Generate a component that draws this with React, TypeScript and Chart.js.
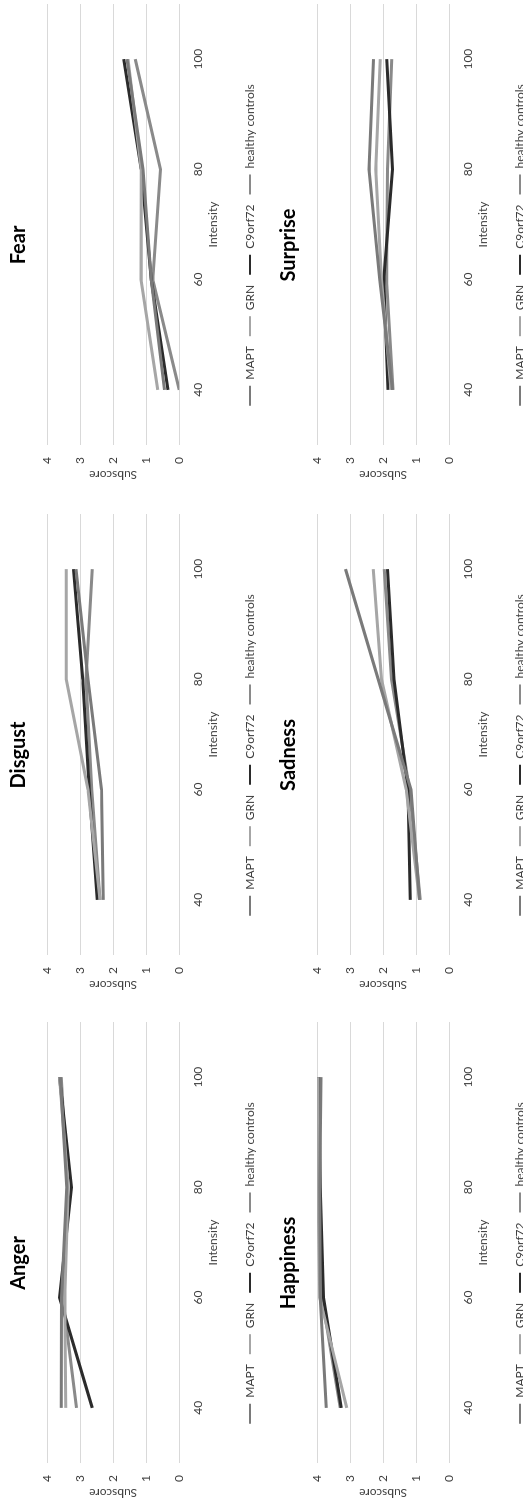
import React, { useEffect, useRef } from 'react';
import { Chart, registerables } from 'chart.js';

Chart.register(...registerables);

// ---------- data ----------
const INTENSITY = ['40', '60', '80', '100'];
const SERIES_NAMES = ['MAPT', 'GRN', 'C9orf72', 'healthy controls'];
const Y_MIN = 0;
const Y_MAX = 4;
const Y_STEP = 1;

const ANGER_MAPT = [3.57, 3.56, 3.4, 3.6];
const ANGER_GRN = [3.43, 3.46, 3.36, 3.62];
const ANGER_C9 = [2.63, 3.62, 3.26, 3.62];
const ANGER_HC = [3.11, 3.52, 3.38, 3.57];

const DISGUST_MAPT = [2.3, 2.35, 2.76, 3.12];
const DISGUST_GRN = [2.4, 2.76, 3.42, 3.42];
const DISGUST_C9 = [2.48, 2.72, 2.92, 3.2];
const DISGUST_HC = [2.4, 2.65, 2.82, 2.63];

const FEAR_MAPT = [0.45, 0.85, 1.1, 1.58];
const FEAR_GRN = [0.65, 1.16, 1.15, 1.55];
const FEAR_C9 = [0.34, 0.85, 1.15, 1.68];
const FEAR_HC = [0.0, 0.8, 0.57, 1.33];

const HAPPINESS_MAPT = [3.72, 3.9, 3.92, 3.88];
const HAPPINESS_GRN = [3.1, 3.92, 3.97, 3.97];
const HAPPINESS_C9 = [3.27, 3.8, 3.9, 3.95];
const HAPPINESS_HC = [3.3, 3.85, 3.95, 3.98];

const SADNESS_MAPT = [0.9, 1.16, 2.15, 3.14];
const SADNESS_GRN = [0.9, 1.3, 2.05, 2.3];
const SADNESS_C9 = [1.18, 1.25, 1.67, 1.87];
const SADNESS_HC = [0.88, 1.2, 1.75, 1.97];

const SURPRISE_MAPT = [1.72, 2.1, 2.43, 2.29];
const SURPRISE_GRN = [1.76, 2.05, 2.22, 2.09];
const SURPRISE_C9 = [1.85, 1.98, 1.72, 1.89];
const SURPRISE_HC = [1.7, 1.9, 1.87, 1.74];

// ---------- styles / layout ----------
const SERIES_COLORS = ['#7a7a7a', '#a6a6a6', '#2b2b2b', '#8a8a8a'];
const FONT = 'Lato, "Open Sans", sans-serif';
const TEXT = '#404040';
const GRID = '#d9d9d9';
const CANVAS_W = 487;
const CANVAS_H = 270;

const PANELS = [
  { title: 'Anger', series: [ANGER_MAPT, ANGER_GRN, ANGER_C9, ANGER_HC], left: 0, top: 0 },
  { title: 'Disgust', series: [DISGUST_MAPT, DISGUST_GRN, DISGUST_C9, DISGUST_HC], left: 508, top: 0 },
  { title: 'Fear', series: [FEAR_MAPT, FEAR_GRN, FEAR_C9, FEAR_HC], left: 1018, top: 0 },
  { title: 'Happiness', series: [HAPPINESS_MAPT, HAPPINESS_GRN, HAPPINESS_C9, HAPPINESS_HC], left: 0, top: 270 },
  { title: 'Sadness', series: [SADNESS_MAPT, SADNESS_GRN, SADNESS_C9, SADNESS_HC], left: 508, top: 270 },
  { title: 'Surprise', series: [SURPRISE_MAPT, SURPRISE_GRN, SURPRISE_C9, SURPRISE_HC], left: 1018, top: 270 },
];

function Panel({ title, series, left, top }: { title: string; series: number[][]; left: number; top: number }) {
  const ref = useRef<HTMLCanvasElement | null>(null);
  useEffect(() => {
    if (!ref.current) return;
    const font = { family: FONT, size: 12 };
    const chart = new Chart(ref.current, {
      type: 'line',
      data: {
        labels: INTENSITY,
        datasets: series.map((d, i) => ({
          label: SERIES_NAMES[i],
          data: d,
          borderColor: SERIES_COLORS[i],
          backgroundColor: SERIES_COLORS[i],
          borderWidth: 3,
          pointRadius: 0,
          pointHoverRadius: 0,
          tension: 0,
          fill: false,
        })),
      },
      options: {
        responsive: false,
        animation: false,
        events: [],
        layout: { padding: { left: 0, right: 5, top: 0, bottom: 4 } },
        plugins: {
          title: {
            display: true,
            text: title,
            color: '#000000',
            font: { family: FONT, size: 20, weight: 'bold' },
            padding: { top: 7, bottom: 16 },
          },
          legend: {
            position: 'bottom',
            labels: {
              usePointStyle: true,
              pointStyle: 'line',
              pointStyleWidth: 20,
              color: TEXT,
              font,
              padding: 10,
              generateLabels: (c: any) =>
                (Chart as any).defaults.plugins.legend.labels
                  .generateLabels(c)
                  .map((l: any) => ({ ...l, lineWidth: 2 })),
            },
          },
          tooltip: { enabled: false },
        },
        scales: {
          x: {
            type: 'category',
            offset: true,
            grid: { display: false, drawTicks: false },
            border: { display: false },
            ticks: { color: TEXT, font, padding: 12 },
            title: {
              display: true,
              text: 'Intensity',
              color: TEXT,
              font,
              padding: { top: 0, bottom: 13.8 },
            },
            afterFit: (s: any) => {
              s.height = 54.7;
            },
          },
          y: {
            min: Y_MIN,
            max: Y_MAX,
            ticks: { stepSize: Y_STEP, color: TEXT, font, padding: 12 },
            grid: { color: GRID, lineWidth: 1, drawTicks: false },
            border: { display: false },
            title: {
              display: true,
              text: 'Subscore',
              color: TEXT,
              font,
              padding: { top: 4, bottom: 4 },
            },
            afterFit: (s: any) => {
              s.width = 41;
            },
          },
        },
      },
    } as any);
    return () => chart.destroy();
  }, [title, series]);
  return (
    <canvas
      ref={ref}
      width={CANVAS_W}
      height={CANVAS_H}
      style={{ position: 'absolute', left, top, width: CANVAS_W, height: CANVAS_H }}
    />
  );
}

export default function App() {
  return (
    <div
      style={{
        position: 'absolute',
        left: 0,
        top: 0,
        width: 523,
        height: 1504,
        overflow: 'hidden',
        background: '#ffffff',
      }}
    >
      <div
        style={{
          position: 'absolute',
          left: 0,
          top: 0,
          width: 1504,
          height: 523,
          overflow: 'hidden',
          transformOrigin: '0 0',
          transform: 'translate(0px, 1504px) rotate(-90deg)',
          background: '#ffffff',
        }}
      >
        {PANELS.map((p) => (
          <Panel key={p.title} title={p.title} series={p.series} left={p.left} top={p.top} />
        ))}
      </div>
    </div>
  );
}
